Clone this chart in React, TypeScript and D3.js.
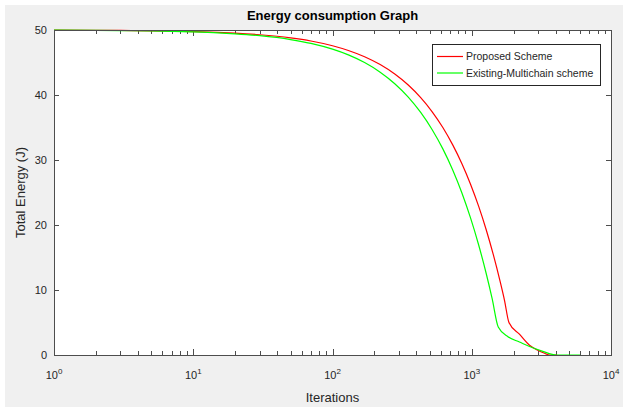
import React, { useEffect, useRef } from 'react';
import * as d3 from 'd3';

// values
const iterProposed = [1, 2, 3, 5, 7, 10, 15, 20, 30, 50, 70, 100, 130, 170, 220, 280, 350, 430, 520, 620, 730, 850, 980, 1120, 1270, 1430, 1600, 1720, 1850, 2200, 2600, 3000, 3300, 3600, 4100];
const energyProposed = [49.98, 49.95, 49.93, 49.88, 49.83, 49.76, 49.64, 49.52, 49.27, 48.79, 48.31, 47.58, 46.85, 45.89, 44.68, 43.22, 41.53, 39.59, 37.42, 35.0, 32.33, 29.43, 26.28, 22.9, 19.27, 15.39, 11.28, 8.38, 5.0, 3.2, 1.5, 0.7, 0.3, 0, 0];
const iterExisting = [1, 2, 3, 5, 7, 10, 15, 20, 30, 50, 70, 100, 130, 170, 220, 280, 350, 430, 520, 620, 730, 850, 980, 1120, 1270, 1400, 1550, 1820, 2200, 2600, 3200, 4080, 6000];
const energyExisting = [49.97, 49.94, 49.91, 49.85, 49.79, 49.7, 49.56, 49.41, 49.12, 48.53, 47.94, 47.05, 46.17, 44.99, 43.51, 41.74, 39.68, 37.32, 34.66, 31.71, 28.47, 24.93, 21.09, 16.96, 12.54, 8.7, 4.3, 2.8, 2.0, 1.3, 0.6, 0, 0];
const yTicks = [0, 10, 20, 30, 40, 50];
const xDecades = [0, 1, 2, 3, 4];
const seriesNames = ['Proposed Scheme', 'Existing-Multichain scheme'];
const seriesColors = ['#ff0000', '#00ff00'];

const App = () => {
  const svgRef = useRef<SVGSVGElement>(null);

  useEffect(() => {
    document.body.style.margin = '0';
    const svgEl = d3.select(svgRef.current);
    svgEl.selectAll('*').remove();

    const W = 623, H = 407;
    const margin = { top: 30, right: 12, bottom: 52, left: 54 };
    const width = W - margin.left - margin.right;
    const height = H - margin.top - margin.bottom;
    const font = '"Liberation Sans", Arial, sans-serif';
    const axisColor = '#4d4d4d';
    const textColor = '#262626';

    svgEl.attr('width', W).attr('height', H);
    svgEl.append('rect').attr('width', W).attr('height', H).attr('fill', '#ffffff');
    svgEl.append('rect').attr('x', 5).attr('y', 5).attr('width', W - 5).attr('height', H - 5).attr('fill', '#f0f0f0');

    const svg = svgEl.append('g').attr('transform', `translate(${margin.left},${margin.top})`);

    const x = d3.scaleLog().domain([1, 10000]).range([0, width]);
    const y = d3.scaleLinear().domain([0, 50]).range([height, 0]);

    svg.append('rect').attr('width', width).attr('height', height).attr('fill', '#ffffff');

    // minor + major ticks, inward on all sides
    const minor: number[] = [];
    xDecades.slice(0, -1).forEach(k => {
      for (let m = 2; m <= 9; m++) minor.push(m * Math.pow(10, k));
    });
    const tickG = svg.append('g').attr('stroke', axisColor).attr('stroke-width', 1);
    minor.forEach(v => {
      const px = Math.round(x(v)) + 0.5;
      tickG.append('line').attr('x1', px).attr('x2', px).attr('y1', height).attr('y2', height - 4);
      tickG.append('line').attr('x1', px).attr('x2', px).attr('y1', 0).attr('y2', 4);
    });
    xDecades.forEach(k => {
      const px = Math.round(x(Math.pow(10, k))) + 0.5;
      tickG.append('line').attr('x1', px).attr('x2', px).attr('y1', height).attr('y2', height - 6);
      tickG.append('line').attr('x1', px).attr('x2', px).attr('y1', 0).attr('y2', 6);
    });
    yTicks.forEach(v => {
      const py = Math.round(y(v)) + 0.5;
      tickG.append('line').attr('x1', 0).attr('x2', 5).attr('y1', py).attr('y2', py);
      tickG.append('line').attr('x1', width).attr('x2', width - 5).attr('y1', py).attr('y2', py);
    });

    // curves
    const line = d3.line<[number, number]>()
      .x(d => x(d[0]))
      .y(d => y(d[1]))
      .curve(d3.curveMonotoneX);

    const series: [number, number][][] = [
      iterProposed.map((v, i) => [v, energyProposed[i]]),
      iterExisting.map((v, i) => [v, energyExisting[i]]),
    ];
    series.forEach((s, i) => {
      svg.append('path')
        .datum(s)
        .attr('fill', 'none')
        .attr('stroke', seriesColors[i])
        .attr('stroke-width', 1.2)
        .attr('d', line);
    });

    // box
    svg.append('rect')
      .attr('x', 0.5).attr('y', 0.5)
      .attr('width', width).attr('height', height)
      .attr('fill', 'none').attr('stroke', axisColor);

    // y tick labels
    yTicks.forEach(v => {
      svg.append('text')
        .attr('x', -7).attr('y', y(v)).attr('dy', '0.35em')
        .attr('text-anchor', 'end')
        .style('font-family', font).style('font-size', '11px')
        .attr('fill', textColor)
        .text(v);
    });

    // x tick labels 10^k
    xDecades.forEach(k => {
      const t = svg.append('text')
        .attr('x', x(Math.pow(10, k))).attr('y', height + 24)
        .attr('text-anchor', 'middle')
        .style('font-family', font).style('font-size', '11px')
        .attr('fill', textColor);
      t.append('tspan').text('10');
      t.append('tspan').attr('dy', -5).style('font-size', '8px').text(k);
    });

    svg.append('text')
      .attr('x', width / 2).attr('y', height + 47)
      .attr('text-anchor', 'middle')
      .style('font-family', font).style('font-size', '13px')
      .attr('fill', textColor)
      .text('Iterations');

    svg.append('text')
      .attr('transform', `translate(${-29},${height / 2}) rotate(-90)`)
      .attr('text-anchor', 'middle')
      .style('font-family', font).style('font-size', '13px')
      .attr('fill', textColor)
      .text('Total Energy (J)');

    svg.append('text')
      .attr('x', width / 2).attr('y', -10)
      .attr('text-anchor', 'middle')
      .style('font-family', font).style('font-size', '13px').style('font-weight', 'bold')
      .attr('fill', '#000000')
      .text('Energy consumption Graph');

    // legend
    const lg = svg.append('g').attr('transform', `translate(${432 - margin.left},${44 - margin.top})`);
    lg.append('rect')
      .attr('x', 0.5).attr('y', 0.5).attr('width', 168).attr('height', 41)
      .attr('fill', '#ffffff').attr('stroke', '#262626');
    seriesNames.forEach((name, i) => {
      const ly = 12.5 + i * 16.5;
      lg.append('line')
        .attr('x1', 5).attr('x2', 31).attr('y1', ly).attr('y2', ly)
        .attr('stroke', seriesColors[i]).attr('stroke-width', 1.2);
      lg.append('text')
        .attr('x', 34).attr('y', ly).attr('dy', '0.35em')
        .style('font-family', font).style('font-size', '10.5px')
        .attr('fill', textColor)
        .text(name);
    });
  }, []);

  return <svg ref={svgRef} style={{ display: 'block' }}></svg>;
};

export default App;
